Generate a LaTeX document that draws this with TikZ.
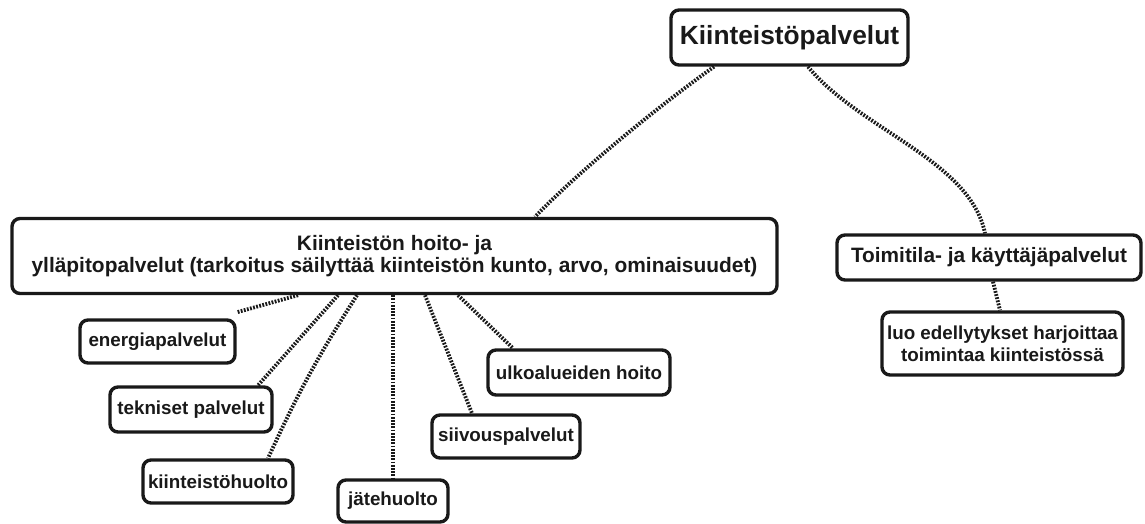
\documentclass[tikz,border=0pt]{standalone}
\usepackage{fontspec}
\setmainfont{Liberation Sans}
\usetikzlibrary{backgrounds}
\begin{document}
\begin{tikzpicture}[x=1pt,y=-1pt,
  box/.style={draw=black!90, fill=white, line width=3.4pt, rounded corners=8pt,
    inner sep=0pt, align=center, text=black!90,
    font=\fontsize{18.8}{22}\selectfont\bfseries},
  link/.style={draw=black!90, line width=3.8pt, dash pattern=on 1.8pt off 1.4pt}]
\useasboundingbox (0,0) rectangle (1145,523);

% main topic and its two branches
\node[box, minimum width=237pt, minimum height=55pt,
      font=\fontsize{26.3}{30}\selectfont\bfseries] (top) at (789.5,37.5) {Kiinteistöpalvelut};
\node[box, minimum width=765pt, minimum height=75pt,
      font=\fontsize{20.9}{21.5}\selectfont\bfseries] (hoito) at (394.5,256)
  {Kiinteistön hoito- ja\\ylläpitopalvelut (tarkoitus säilyttää kiinteistön kunto, arvo, ominaisuudet)};
\node[box, minimum width=304pt, minimum height=45pt,
      font=\fontsize{20.8}{25}\selectfont\bfseries] (tila) at (989,257.5) {Toimitila- ja käyttäjäpalvelut};
\node[box, minimum width=241pt, minimum height=63pt] (luo) at (1002.5,343.5)
  {luo edellytykset harjoittaa\\toimintaa kiinteistössä};

% maintenance services
\node[box, minimum width=155pt, minimum height=43pt] (energia) at (157.5,341.5) {energiapalvelut};
\node[box, minimum width=162pt, minimum height=45pt] (tekn) at (191,409.5) {tekniset palvelut};
\node[box, minimum width=150pt, minimum height=43pt] (huolto) at (218,481.5) {kiinteistöhuolto};
\node[box, minimum width=110pt, minimum height=42pt] (jate) at (393,501) {jätehuolto};
\node[box, minimum width=148pt, minimum height=43pt] (siivous) at (506,436.5) {siivouspalvelut};
\node[box, minimum width=182pt, minimum height=45pt] (ulko) at (579,372.5) {ulkoalueiden hoito};

\begin{scope}[on background layer]
  \draw[link] ([xshift=-75.5pt]top.south) .. controls (660,105) and (580,170) .. ([xshift=140.5pt]hoito.north);
  \draw[link] ([xshift=18.5pt]top.south) .. controls (860,130) and (970,160) .. ([xshift=-4pt]tila.north);
  \draw[link] ([xshift=4pt]tila.south) -- ([xshift=-2.5pt]luo.north);

  \draw[link] ([xshift=-96.5pt]hoito.south) -- ([yshift=6pt]energia.north east);
  \draw[link] ([xshift=-56.5pt]hoito.south) -- ([xshift=67pt]tekn.north);
  \draw[link] ([xshift=-37.5pt]hoito.south) to[bend right=4] ([xshift=50pt]huolto.north);
  \draw[link] (jate.north |- hoito.south) -- (jate.north);
  \draw[link] ([xshift=30.5pt]hoito.south) -- ([xshift=-34pt]siivous.north);
  \draw[link] ([xshift=63.5pt]hoito.south) -- ([xshift=-66pt]ulko.north);
\end{scope}
\end{tikzpicture}
\end{document}
